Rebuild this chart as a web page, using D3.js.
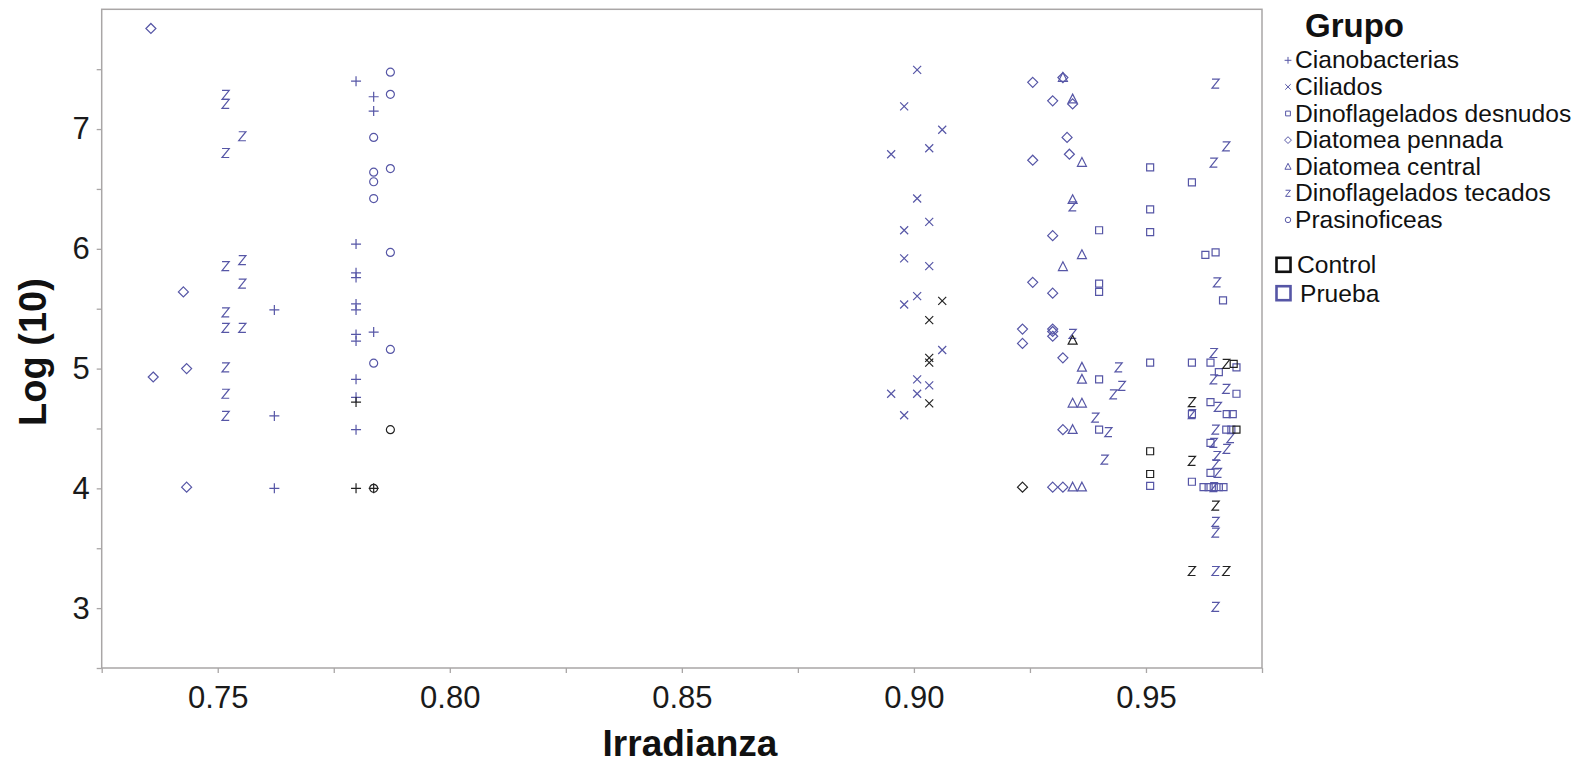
<!DOCTYPE html>
<html>
<head>
<meta charset="utf-8">
<script src="https://cdn.jsdelivr.net/npm/d3@7"></script>
<style>
  body { margin: 0; background: #fff; }
  svg { display: block; font-family: "Liberation Sans", Arial, sans-serif; }
</style>
</head>
<body>
<svg id="chart"></svg>
<script>
const WIDTH = 1589;
const HEIGHT = 764;

// Groups, treatments and ticks
const grupos = ['Cianobacterias', 'Ciliados', 'Dinoflagelados desnudos', 'Diatomea pennada',
  'Diatomea central', 'Dinoflagelados tecados', 'Prasinoficeas'];
const tratamientos = ['Control', 'Prueba'];
const xTicks = [0.75, 0.80, 0.85, 0.90, 0.95];
const xMinor = [0.725, 0.775, 0.825, 0.875, 0.925, 0.975];
const yTicks = [3, 4, 5, 6, 7];
const yMinor = [2.5, 3.5, 4.5, 5.5, 6.5, 7.5];

// [irradianza, log10, tratamiento]  C = Control, P = Prueba
const cianobacterias = [
  [0.7798, 7.40, 'P'], [0.7836, 7.27, 'P'], [0.7836, 7.15, 'P'], [0.7798, 6.04, 'P'],
  [0.7798, 5.80, 'P'], [0.7798, 5.76, 'P'], [0.7622, 5.49, 'P'], [0.7798, 5.54, 'P'],
  [0.7798, 5.49, 'P'], [0.7836, 5.305, 'P'], [0.7798, 5.285, 'P'], [0.7798, 5.23, 'P'],
  [0.7798, 4.91, 'P'], [0.7798, 4.76, 'P'], [0.7622, 4.605, 'P'], [0.7798, 4.49, 'P'],
  [0.7622, 4.00, 'P'],
  [0.7798, 4.72, 'C'], [0.7798, 4.00, 'C'], [0.7836, 4.00, 'C']
];
const ciliados = [
  [0.9007, 7.494, 'P'], [0.8979, 7.19, 'P'], [0.9061, 6.994, 'P'], [0.9033, 6.84, 'P'],
  [0.8951, 6.79, 'P'], [0.9007, 6.42, 'P'], [0.9033, 6.225, 'P'], [0.8979, 6.155, 'P'],
  [0.8979, 5.92, 'P'], [0.9033, 5.855, 'P'], [0.9007, 5.605, 'P'], [0.8979, 5.535, 'P'],
  [0.9061, 5.155, 'P'], [0.9007, 4.91, 'P'], [0.9033, 4.86, 'P'], [0.8951, 4.79, 'P'],
  [0.9007, 4.79, 'P'], [0.8979, 4.61, 'P'],
  [0.9061, 5.565, 'C'], [0.9033, 5.405, 'C'], [0.9033, 5.09, 'C'], [0.9033, 5.05, 'C'],
  [0.9033, 4.71, 'C']
];
const dinoDesnudos = [
  [0.9399, 6.155, 'P'], [0.9399, 5.71, 'P'], [0.9399, 5.64, 'P'], [0.9399, 4.91, 'P'],
  [0.9399, 4.49, 'P'], [0.9509, 6.68, 'P'], [0.9509, 6.33, 'P'], [0.9509, 6.14, 'P'],
  [0.9509, 5.05, 'P'], [0.9509, 4.02, 'P'], [0.9599, 6.555, 'P'], [0.9599, 5.05, 'P'],
  [0.9599, 4.62, 'P'], [0.9599, 4.055, 'P'], [0.9628, 5.95, 'P'], [0.9650, 5.97, 'P'],
  [0.9666, 5.57, 'P'], [0.9639, 5.05, 'P'], [0.9695, 5.01, 'P'], [0.9657, 4.97, 'P'],
  [0.9695, 4.79, 'P'], [0.9639, 4.72, 'P'], [0.9674, 4.62, 'P'], [0.9687, 4.62, 'P'],
  [0.9673, 4.49, 'P'], [0.9684, 4.49, 'P'], [0.9639, 4.38, 'P'], [0.9639, 4.13, 'P'],
  [0.9624, 4.01, 'P'], [0.9635, 4.01, 'P'], [0.9646, 4.01, 'P'], [0.9657, 4.01, 'P'],
  [0.9667, 4.01, 'P'],
  [0.9509, 4.31, 'C'], [0.9509, 4.12, 'C'], [0.9689, 5.04, 'C'], [0.9695, 4.49, 'C']
];
const diatomeaPennada = [
  [0.7356, 7.84, 'P'], [0.7426, 5.64, 'P'], [0.7433, 5.00, 'P'], [0.7361, 4.93, 'P'],
  [0.7433, 4.01, 'P'], [0.9256, 7.39, 'P'], [0.9321, 7.43, 'P'], [0.9299, 7.236, 'P'],
  [0.9342, 7.21, 'P'], [0.9330, 6.93, 'P'], [0.9335, 6.79, 'P'], [0.9256, 6.74, 'P'],
  [0.9299, 6.11, 'P'], [0.9256, 5.72, 'P'], [0.9299, 5.63, 'P'], [0.9234, 5.33, 'P'],
  [0.9234, 5.21, 'P'], [0.9299, 5.33, 'P'], [0.9299, 5.31, 'P'], [0.9299, 5.27, 'P'],
  [0.9321, 5.09, 'P'], [0.9321, 4.49, 'P'], [0.9299, 4.01, 'P'], [0.9321, 4.01, 'P'],
  [0.9234, 4.01, 'C']
];
const diatomeaCentral = [
  [0.9321, 7.43, 'P'], [0.9342, 7.25, 'P'], [0.9362, 6.72, 'P'], [0.9342, 6.41, 'P'],
  [0.9362, 5.95, 'P'], [0.9321, 5.85, 'P'], [0.9362, 5.01, 'P'], [0.9362, 4.91, 'P'],
  [0.9342, 4.71, 'P'], [0.9362, 4.71, 'P'], [0.9342, 4.49, 'P'], [0.9342, 4.01, 'P'],
  [0.9362, 4.01, 'P'],
  [0.9342, 5.235, 'C']
];
const dinoTecados = [
  [0.7517, 7.286, 'P'], [0.7517, 7.21, 'P'], [0.7553, 6.94, 'P'], [0.7517, 6.80, 'P'],
  [0.7517, 5.855, 'P'], [0.7553, 5.905, 'P'], [0.7553, 5.71, 'P'], [0.7517, 5.47, 'P'],
  [0.7517, 5.34, 'P'], [0.7553, 5.34, 'P'], [0.7517, 5.01, 'P'], [0.7517, 4.79, 'P'],
  [0.7517, 4.605, 'P'],
  [0.9342, 6.355, 'P'], [0.9342, 5.29, 'P'], [0.9441, 5.01, 'P'], [0.9448, 4.855, 'P'],
  [0.9430, 4.785, 'P'], [0.9391, 4.59, 'P'], [0.9419, 4.47, 'P'], [0.9411, 4.24, 'P'],
  [0.9650, 7.38, 'P'], [0.9673, 6.855, 'P'], [0.9646, 6.72, 'P'], [0.9653, 5.72, 'P'],
  [0.9646, 5.13, 'P'], [0.9646, 4.91, 'P'], [0.9673, 4.83, 'P'], [0.9655, 4.68, 'P'],
  [0.9599, 4.62, 'P'], [0.9650, 4.49, 'P'], [0.9682, 4.42, 'P'], [0.9674, 4.33, 'P'],
  [0.9646, 4.38, 'P'], [0.9653, 4.27, 'P'], [0.9650, 4.20, 'P'], [0.9655, 4.13, 'P'],
  [0.9646, 4.01, 'P'], [0.9650, 3.72, 'P'], [0.9650, 3.63, 'P'], [0.9650, 3.31, 'P'],
  [0.9650, 3.01, 'P'],
  [0.9599, 4.72, 'C'], [0.9599, 4.23, 'C'], [0.9599, 3.31, 'C'], [0.9673, 5.04, 'C'],
  [0.9650, 3.855, 'C'], [0.9673, 3.31, 'C']
];
const prasinoficeas = [
  [0.7872, 7.475, 'P'], [0.7872, 7.29, 'P'], [0.7836, 6.93, 'P'], [0.7836, 6.64, 'P'],
  [0.7836, 6.56, 'P'], [0.7872, 6.67, 'P'], [0.7836, 6.42, 'P'], [0.7872, 5.97, 'P'],
  [0.7872, 5.16, 'P'], [0.7836, 5.045, 'P'],
  [0.7872, 4.49, 'C'], [0.7836, 4.00, 'C']
];

const series = [cianobacterias, ciliados, dinoDesnudos, diatomeaPennada,
  diatomeaCentral, dinoTecados, prasinoficeas];

const points = [];
series.forEach((rows, gi) => {
  for (const [irr, val, t] of rows) {
    points.push({grupo: grupos[gi], irr, val, trat: t === 'C' ? 'Control' : 'Prueba'});
  }
});
// Controls drawn on top.
points.sort((a, b) => (a.trat === 'Control') - (b.trat === 'Control'));

const BLUE = '#5656a6';
const color = d3.scaleOrdinal().domain(tratamientos).range(['#222', BLUE]);

// Marker outlines, one per group, for a half-size s.
function markerPath(grupo, s) {
  switch (grupo) {
    case 'Cianobacterias':
      return `M${-s},0H${s}M0,${-s}V${s}`;
    case 'Ciliados': {
      const a = s * 0.8;
      return `M${-a},${-a}L${a},${a}M${-a},${a}L${a},${-a}`;
    }
    case 'Dinoflagelados desnudos': {
      const a = s * 0.7;
      return `M${-a},${-a}H${a}V${a}H${-a}Z`;
    }
    case 'Diatomea pennada':
      return `M0,${-s}L${s},0L0,${s}L${-s},0Z`;
    case 'Diatomea central':
      return `M0,${-s}L${s * 0.9},${s * 0.75}H${-s * 0.9}Z`;
    case 'Dinoflagelados tecados': {
      const a = s * 0.72, b = s * 0.9;
      return `M${-a},${-b}H${a}L${-a},${b}H${a}`;
    }
    default: {
      const r = s * 0.8;
      return `M${r},0A${r},${r} 0 1,1 ${-r},0A${r},${r} 0 1,1 ${r},0Z`;
    }
  }
}

const svg = d3.select('#chart')
  .attr('width', WIDTH)
  .attr('height', HEIGHT)
  .attr('viewBox', `0 0 ${WIDTH} ${HEIGHT}`);

const plot = {left: 101.7, right: 1262, top: 9.3, bottom: 668};

const x = d3.scaleLinear().domain([0.725, 0.975]).range([plot.left, plot.right]);
const y = d3.scaleLinear().domain([2.5, 8.0]).range([plot.bottom, plot.top]);

const AXIS = '#a9a6a6';

// Frame
svg.append('rect')
  .attr('x', plot.left)
  .attr('y', plot.top)
  .attr('width', plot.right - plot.left)
  .attr('height', plot.bottom - plot.top)
  .attr('fill', 'none')
  .attr('stroke', AXIS)
  .attr('stroke-width', 1.5);

function styleAxis(g) {
  g.select('.domain').remove();
  g.selectAll('.tick line').attr('stroke', AXIS).attr('stroke-width', 1.3);
  g.selectAll('.tick text')
    .attr('fill', '#1a1a1a')
    .style('font-size', '31px')
    .style('font-family', '"Liberation Sans", Arial, sans-serif');
}

svg.append('g')
  .attr('transform', `translate(0,${plot.bottom})`)
  .call(d3.axisBottom(x).tickValues(xMinor).tickSize(5).tickFormat(''))
  .call(styleAxis);

svg.append('g')
  .attr('transform', `translate(0,${plot.bottom})`)
  .call(d3.axisBottom(x).tickValues(xTicks).tickSize(5).tickPadding(13).tickFormat(d3.format('.2f')))
  .call(styleAxis);

svg.append('g')
  .attr('transform', `translate(${plot.left},0)`)
  .call(d3.axisLeft(y).tickValues(yMinor).tickSize(5).tickFormat(''))
  .call(styleAxis);

svg.append('g')
  .attr('transform', `translate(${plot.left},0)`)
  .call(d3.axisLeft(y).tickValues(yTicks).tickSize(5).tickPadding(7).tickFormat(d3.format('d')))
  .call(styleAxis);

// Axis titles
svg.append('text')
  .attr('x', 690)
  .attr('y', 756)
  .attr('text-anchor', 'middle')
  .attr('font-weight', 'bold')
  .attr('font-size', 37)
  .attr('fill', '#111')
  .text('Irradianza');

svg.append('text')
  .attr('transform', `translate(46,352) rotate(-90)`)
  .attr('text-anchor', 'middle')
  .attr('font-weight', 'bold')
  .attr('font-size', 38)
  .attr('fill', '#111')
  .text('Log (10)');

// Points
svg.append('g')
  .selectAll('path')
  .data(points)
  .join('path')
  .attr('transform', d => `translate(${x(d.irr)},${y(d.val)})`)
  .attr('d', d => markerPath(d.grupo, 5))
  .attr('fill', 'none')
  .attr('stroke', d => color(d.trat))
  .attr('stroke-width', 1.2);

// Legend
const legend = svg.append('g');

legend.append('text')
  .attr('x', 1305)
  .attr('y', 37)
  .attr('font-weight', 'bold')
  .attr('font-size', 33)
  .attr('fill', '#111')
  .text('Grupo');

const rowH = 26.6;
const items = legend.selectAll('.item')
  .data(grupos)
  .join('g')
  .attr('class', 'item')
  .attr('transform', (d, i) => `translate(0,${68.3 + i * rowH})`);

items.append('path')
  .attr('transform', 'translate(1288,-8)')
  .attr('d', d => markerPath(d, 3.4))
  .attr('fill', 'none')
  .attr('stroke', BLUE)
  .attr('stroke-width', 1);

items.append('text')
  .attr('x', 1295)
  .attr('font-size', 24.6)
  .attr('fill', '#111')
  .text(d => d);

const trats = legend.selectAll('.trat')
  .data(tratamientos)
  .join('g')
  .attr('class', 'trat')
  .attr('transform', (d, i) => `translate(0,${273.3 + i * 28.4})`);

trats.append('rect')
  .attr('x', 1276.5)
  .attr('y', -15.5)
  .attr('width', 14)
  .attr('height', 14)
  .attr('fill', 'none')
  .attr('stroke', d => d === 'Control' ? '#111' : BLUE)
  .attr('stroke-width', 2.6);

trats.append('text')
  .attr('x', (d, i) => i === 0 ? 1297 : 1300)
  .attr('font-size', 24.6)
  .attr('fill', '#111')
  .text(d => d);
</script>
</body>
</html>
